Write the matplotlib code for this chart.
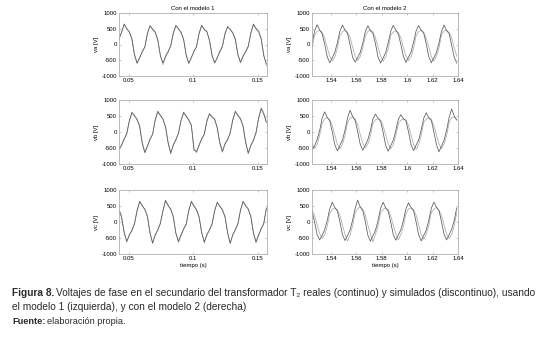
import numpy as np
import matplotlib
matplotlib.use("Agg")
import matplotlib.pyplot as plt

plt.rcParams['font.family'] = ['Liberation Sans', 'DejaVu Sans']
plt.rcParams['axes.unicode_minus'] = False

# time axes (s)
t_m1 = 0.0425 + 0.002 * np.arange(58)
t_m2 = 1.525 + 0.002 * np.arange(58)

# model 1 (left column): real and simulated phase voltages [V]
va_real_m1 = [180, 380,
              650, 500, 400, 160, -340, -600, -410, -240, -70, 340,
              600, 480, 380, 140, -360, -590, -390, -220, -50, 360,
              610, 490, 390, 150, -350, -600, -400, -230, -60, 350,
              600, 480, 400, 140, -340, -590, -410, -240, -70, 330,
              570, 470, 380, 150, -330, -560, -380, -220, -50, 370,
              650, 500, 410, 170, -360, -620]
va_sim_m1 = [150, 400,
             620, 520, 380, 200, -300, -580, -450, -200, -90, 380,
             580, 500, 420, 180, -330, -640, -350, -260, -20, 330,
             590, 510, 360, 190, -310, -590, -430, -200, -80, 380,
             620, 460, 430, 110, -370, -570, -440, -200, -40, 360,
             550, 500, 350, 200, -300, -590, -350, -250, -80, 340,
             620, 520, 440, 220, -320, -680]
vb_real_m1 = [-540, -400, -230, -40, 360,
              620, 500, 400, 160, -360, -650, -430, -240, -60, 360,
              650, 510, 410, 150, -350, -650, -420, -230, -50, 370,
              620, 490, 380, 200, -560, -610, -400, -220, -60, 330,
              560, 480, 390, 140, -330, -600, -380, -230, -40, 380,
              650, 510, 420, 170, -340, -650, -430, -250, -30, 420,
              720, 560, 300]
vb_sim_m1 = [-500, -440, -200, -80, 320,
             580, 530, 370, 210, -320, -620, -470, -200, -90, 400,
             620, 540, 380, 190, -300, -690, -380, -260, -20, 340,
             580, 520, 350, 230, -520, -650, -430, -190, -90, 370,
             590, 450, 420, 110, -370, -640, -350, -260, -10, 350,
             610, 540, 390, 210, -300, -690, -400, -280, 0, 450,
             770, 600, 330]
vc_real_m1 = [380, 140, -340, -600, -420, -250, -60, 350,
              650, 500, 400, 160, -350, -650, -420, -240, -50, 360,
              680, 510, 410, 150, -360, -600, -400, -230, -60, 350,
              650, 490, 390, 140, -350, -620, -410, -240, -70, 340,
              620, 480, 390, 150, -340, -650, -420, -230, -50, 360,
              650, 500, 410, 160, -350, -620, -400, -220, -40, 420]
vc_sim_m1 = [410, 180, -300, -640, -380, -280, -30, 380,
             620, 530, 380, 200, -320, -680, -380, -270, -20, 330,
             650, 540, 380, 190, -330, -640, -440, -200, -90, 380,
             620, 520, 360, 180, -310, -660, -370, -270, -40, 370,
             590, 510, 360, 190, -300, -690, -380, -260, -80, 390,
             620, 530, 380, 200, -320, -650, -440, -190, -70, 450]

# model 2 (right column)
va_real_m2 = [50, 420,
              630, 460, 340, 10, -390, -580, -420, -240, 60, 430,
              620, 450, 360, -10, -410, -560, -410, -250, 40, 410,
              600, 440, 350, 20, -400, -590, -430, -260, 50, 420,
              610, 460, 330, 0, -380, -570, -400, -240, 70, 430,
              600, 450, 360, 10, -390, -580, -420, -250, 40, 420,
              620, 440, 350, -20, -400, -590]
va_sim_m2 = [-110, 290,
             410, 450, 390, 200, -100, -370, -520, -390, -120, 280,
             400, 470, 380, 220, -80, -380, -500, -380, -110, 270,
             420, 460, 400, 210, -90, -360, -530, -400, -130, 290,
             390, 440, 380, 200, -100, -370, -510, -390, -120, 280,
             410, 460, 390, 190, -80, -380, -520, -370, -110, 300,
             430, 450, 380, 210, -90, -370]
vb_real_m2 = [-560, -430, -240, 40, 430,
              630, 460, 350, 0, -400, -590, -420, -250, 60, 440,
              680, 480, 360, 10, -390, -570, -410, -240, 50, 410,
              560, 430, 340, -10, -410, -600, -430, -260, 40, 400,
              540, 420, 350, 10, -400, -580, -410, -250, 60, 430,
              600, 450, 360, 0, -390, -620, -440, -260, 50, 450,
              720, 500, 370]
vb_sim_m2 = [-360, -510, -400, -110, 270,
             410, 450, 380, 200, -100, -380, -530, -380, -110, 290,
             430, 480, 400, 220, -80, -360, -500, -370, -130, 270,
             380, 420, 370, 190, -100, -370, -520, -400, -120, 260,
             370, 400, 380, 210, -90, -380, -540, -390, -110, 300,
             400, 450, 390, 200, -80, -370, -520, -380, -120, 290,
             450, 470, 400]
vc_real_m2 = [340, 10, -390, -560, -420, -240, 50, 410,
              620, 450, 350, 0, -400, -580, -420, -250, 60, 430,
              680, 470, 360, 10, -410, -600, -430, -260, 40, 420,
              620, 440, 340, -10, -390, -570, -410, -240, 50, 410,
              600, 450, 350, 0, -400, -590, -420, -250, 60, 430,
              620, 460, 360, 10, -380, -560, -400, -230, 50, 440]
vc_sim_m2 = [380, 220, -80, -360, -510, -400, -130, 270,
             400, 440, 380, 200, -100, -380, -600, -400, -110, 290,
             420, 470, 400, 220, -90, -370, -620, -380, -120, 280,
             390, 450, 380, 190, -100, -360, -560, -390, -130, 270,
             410, 440, 390, 210, -80, -380, -540, -380, -110, 300,
             400, 460, 370, 200, -90, -370, -520, -390, -120, 290]

ylabels = ['va [V]', 'vb [V]', 'vc [V]']
titles = ['Con el modelo 1', 'Con el modelo 2']
yticks = [-1000, -500, 0, 500, 1000]
xticks_m1 = [0.05, 0.1, 0.15]
xticks_m2 = [1.54, 1.56, 1.58, 1.6, 1.62, 1.64]

panels = [
    [(va_real_m1, va_sim_m1), (va_real_m2, va_sim_m2)],
    [(vb_real_m1, vb_sim_m1), (vb_real_m2, vb_sim_m2)],
    [(vc_real_m1, vc_sim_m1), (vc_real_m2, vc_sim_m2)],
]

W, H = 548, 345
fig = plt.figure(figsize=(W / 100, H / 100), dpi=100)

col_x = [(119, 267), (312, 458)]
row_y = [(13, 76), (100, 164), (190, 254)]
fs = 4.3

for r in range(3):
    for c in range(2):
        x0, x1 = col_x[c]
        y0, y1 = row_y[r]
        ax = fig.add_axes([x0 / W, 1 - y1 / H, (x1 - x0) / W, (y1 - y0) / H])
        t = t_m1 if c == 0 else t_m2
        real, sim = panels[r][c]
        ax.plot(t, sim, color='#ababab', lw=0.55)
        ax.plot(t, real, color='#5a5a5a', lw=0.55)
        ax.set_ylim(-1000, 1000)
        ax.set_yticks(yticks)
        if c == 0:
            ax.set_xlim(0.0425, 0.157)
            ax.set_xticks(xticks_m1)
            ax.set_xticklabels(['0.05', '0.1', '0.15'])
        else:
            ax.set_xlim(1.525, 1.64)
            ax.set_xticks(xticks_m2)
            ax.set_xticklabels(['1.54', '1.56', '1.58', '1.6', '1.62', '1.64'])
        ax.tick_params(direction='in', length=1.5, width=0.4, color='#999999',
                       labelsize=fs, pad=1.5, top=True, right=True)
        for s in ax.spines.values():
            s.set_color('#b0b0b0')
            s.set_linewidth(0.6)
        ax.set_ylabel(ylabels[r], fontsize=fs, labelpad=2)
        if r == 0:
            ax.set_title(titles[c], fontsize=fs, pad=2.5)
        if r == 2:
            ax.set_xlabel('tiempo (s)', fontsize=fs, labelpad=1.5)

# caption
cap_fs = 7.3
cap_col = '#2a2a2a'
fig.canvas.draw()
renderer = fig.canvas.get_renderer()
b = fig.text(12 / W, 1 - 293 / H, 'Figura 8.', fontsize=cap_fs, fontweight='bold',
             va='center', ha='left', color=cap_col)
bb = b.get_window_extent(renderer)
fig.text(bb.x1 / W + 2 / W, 1 - 293 / H,
         'Voltajes de fase en el secundario del transformador T\u2082 reales (continuo) '
         'y simulados (discontinuo), usando',
         fontsize=cap_fs, va='center', ha='left', color=cap_col)
fig.text(12 / W, 1 - 307 / H, 'el modelo 1 (izquierda), y con el modelo 2 (derecha)',
         fontsize=cap_fs, va='center', ha='left', color=cap_col)
f = fig.text(12 / W, 1 - 321 / H, 'Fuente:', fontsize=6.6, fontweight='bold',
             va='center', ha='left', color=cap_col)
fb = f.get_window_extent(renderer)
fig.text(fb.x1 / W + 2 / W, 1 - 321 / H, 'elaboración propia.', fontsize=6.6,
         va='center', ha='left', color=cap_col)

fig.savefig('out.png', dpi=100)
